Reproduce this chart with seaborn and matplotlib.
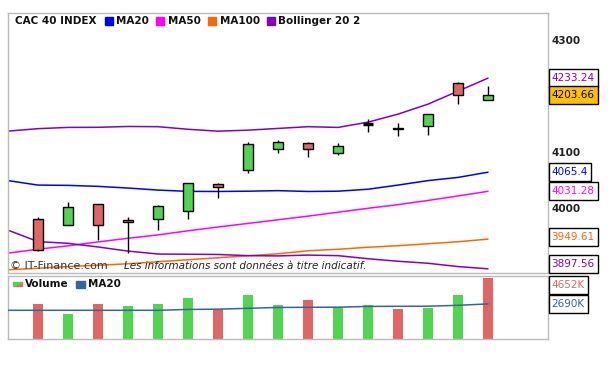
import numpy as np
import pandas as pd
import matplotlib
matplotlib.use("Agg")
import matplotlib.pyplot as plt
from matplotlib.patches import Rectangle, Polygon
import seaborn as sns

sns.set_style("white")
plt.rcParams['font.family'] = ['DejaVu Sans']

# ---- data ----
opens  = [3981, 3970.6, 4008, 3979.5, 3981, 3995.5, 4043.7, 4068.6, 4106, 4117,
          4099, 4151, 4141.7, 4147, 4223.7, 4193.4]
closes = [3927, 4002.7, 3970.6, 3976, 4004.5, 4047, 4038.3, 4115, 4118.5, 4106,
          4113, 4151, 4145, 4168.5, 4204, 4203.66]
highs  = [3985, 4012, 4008, 3985, 4007, 4047, 4046, 4119, 4122, 4120,
          4117, 4161, 4154, 4168.5, 4226, 4219]
lows   = [3925, 3970.6, 3944, 3921, 3963, 3981, 4020, 4064, 4099, 4093,
          4095.4, 4137, 4130, 4132, 4187, 4193.4]
volume_k = [2683, 1923, 2683, 2531, 2683, 3139, 2280, 3367, 2607, 2987,
            2432, 2607, 2303, 2379, 3367, 4652]

# indicator lines start one bar before the first visible candle
ma20  = [4050.4, 4042.4, 4041.9, 4040.1, 4037.1, 4033.5, 4031.2, 4031.0, 4031.5,
         4032.5, 4031.0, 4031.5, 4035.0, 4042.4, 4050.4, 4056.1, 4065.4]
ma50  = [3921, 3928, 3934, 3941, 3947.5, 3953.5, 3960.8, 3967.6, 3974, 3980.5,
         3987, 3994, 4001, 4007.5, 4015, 4023, 4031.28]
ma100 = [3891.3, 3894, 3897, 3899.4, 3902, 3905.6, 3909.2, 3912.7, 3916.3, 3919.8,
         3925.2, 3927.9, 3931.5, 3934.2, 3937.7, 3941.3, 3946]
boll_up = [4138.7, 4143.1, 4145.3, 4145.5, 4147.0, 4146.6, 4142.0, 4138.6, 4140.4,
           4143.5, 4146.6, 4145.3, 4154.7, 4169.0, 4186.8, 4210.0, 4233.24]
boll_lo = [3962, 3941.5, 3938.5, 3932, 3924.6, 3919.4, 3919, 3918.6, 3916.5,
           3916, 3917.5, 3916.5, 3911, 3906.5, 3902.9, 3897, 3893]
vol_ma20 = [2204, 2204, 2204, 2204, 2204, 2204, 2270, 2290, 2356, 2420,
            2432, 2440, 2500, 2508, 2515, 2584, 2690]

price_ticks = [4300, 4100, 4000]
last_labels = [("4233.24", 4233.24, '#8000C8', 'white'),
               ("4065.4", 4065.4, '#0000FF', 'white'),
               ("4031.28", 4031.28, '#FF00FF', 'white'),
               ("3949.61", 3949.61, '#FF6600', 'white'),
               ("3897.56", 3897.56, '#8000C8', 'white'),
               ("4203.66", 4203.66, 'black', '#FFC000')]
vol_labels = [("4652K", 4652, '#E06666', 'white'), ("2690K", 2690, '#336699', 'white')]

RED = '#E06666'
GREEN = '#52D452'
GRID = '#BBBBBB'

candle_x = np.arange(1, len(opens) + 1)
line_x = np.arange(0, len(ma20))

df = pd.DataFrame({'x': candle_x, 'open': opens, 'close': closes,
                   'high': highs, 'low': lows, 'vol': volume_k})
lines = pd.DataFrame({'x': line_x, 'ma20': ma20, 'ma50': ma50, 'ma100': ma100,
                      'up': boll_up, 'lo': boll_lo, 'vma': vol_ma20})

W, H = 614, 366
fig = plt.figure(figsize=(W / 100, H / 100), dpi=100)


def fx(x):
    return x / W


def fy(y):
    return 1 - y / H


ax = fig.add_axes([fx(8), fy(273.3), fx(540), (273.3 - 12.7) / H])
axv = fig.add_axes([fx(8), fy(339.3), fx(540), (339.3 - 275.5) / H])

for a in (ax, axv):
    a.set_xlim(0, 18)
    a.set_xticks([])
    a.set_yticks([])
    for s in a.spines.values():
        s.set_color(GRID)
        s.set_linewidth(1)
ax.set_ylim(3885, 4350)
axv.set_ylim(0, 4850)

# ---- indicator lines ----
for col, c in [('ma100', '#FF6600'), ('ma50', '#FF00FF'), ('ma20', '#0000FF'),
               ('up', '#8000C8'), ('lo', '#8000C8')]:
    sns.lineplot(data=lines, x='x', y=col, ax=ax, color=c, lw=1.1, zorder=2)

# ---- candles ----
bw = 1 / 3
for r in df.itertuples():
    ax.vlines(r.x, r.low, r.high, color='black', lw=1, zorder=3)
    if r.close == r.open:
        ax.hlines(r.close, r.x - bw / 2, r.x + bw / 2, color='black', lw=2.5, zorder=4)
        continue
    col = GREEN if r.close > r.open else RED
    ax.bar(r.x, abs(r.close - r.open), bottom=min(r.open, r.close), width=bw,
           color=col, edgecolor='black', lw=1, zorder=4)
ax.set_xlabel('')
ax.set_ylabel('')

# ---- volume ----
prev = [opens[0]] + closes[:-1]
vcols = [GREEN if c >= p else RED for c, p in zip(closes, prev)]
axv.bar(df['x'], df['vol'], width=bw, color=vcols, lw=0, zorder=2)
sns.lineplot(data=lines, x='x', y='vma', ax=axv, color='#336699', lw=1.1, zorder=3)
axv.set_xlabel('')
axv.set_ylabel('')

# ---- right side labels ----
for t in price_ticks:
    ypx = ax.transData.transform((0, t))[1]
    fig.text(fx(551), ypx / H, str(t), ha='left', va='center',
             fontsize=7.5, fontweight='bold', color='#222222')

fig.canvas.draw()
renderer = fig.canvas.get_renderer()
z = 5
for a, labels in [(ax, last_labels), (axv, vol_labels)]:
    box = a.get_window_extent(renderer)
    for txt, v, tc, bg in labels:
        ypx = a.transData.transform((0, v))[1]
        ypx = min(max(ypx, box.y0 + 9), box.y1 - 9)
        t = fig.text(fx(551.5), ypx / H, txt, ha='left', va='center',
                     fontsize=7.5, color=tc, zorder=z + 1)
        bb = t.get_window_extent(renderer)
        fig.patches.append(Rectangle((fx(548.5), (ypx - 9) / H), fx(bb.x1 + 3 - 548.5), 18 / H,
                                     fc=bg, ec='black', lw=1, transform=fig.transFigure,
                                     zorder=z))
        z += 2

# ---- legends ----
leg_y = fy(20.7)
fig.text(fx(15), leg_y, 'CAC 40 INDEX', fontsize=7.5, fontweight='bold',
         va='center', color='#111111')
for xs, xt, name, c in [(105, 116, 'MA20', '#0000FF'), (156, 168, 'MA50', '#FF00FF'),
                        (208, 220, 'MA100', '#FF6600'), (267, 278, 'Bollinger 20 2', '#8000C8')]:
    fig.patches.append(Rectangle((fx(xs), fy(24.5)), fx(8), 7 / H, color=c,
                                 transform=fig.transFigure))
    fig.text(fx(xt), leg_y, name, fontsize=7.5, fontweight='bold', va='center',
             color='#111111')

vy = fy(283.7)
fig.patches.append(Polygon([(fx(13), fy(285.5)), (fx(21.5), fy(285.5)), (fx(21.5), fy(281.5))],
                           closed=True, color=RED, transform=fig.transFigure))
fig.patches.append(Polygon([(fx(13), fy(285.5)), (fx(13), fy(281.5)), (fx(21.5), fy(281.5))],
                           closed=True, color=GREEN, transform=fig.transFigure))
fig.text(fx(25), vy, 'Volume', fontsize=7.5, fontweight='bold', va='center', color='#111111')
fig.patches.append(Rectangle((fx(76), fy(287.5)), fx(9), 7 / H, color='#336699',
                             transform=fig.transFigure))
fig.text(fx(88), vy, 'MA20', fontsize=7.5, fontweight='bold', va='center', color='#111111')

# ---- watermark ----
fig.text(fx(10), fy(266), '\u00a9 IT-Finance.com', fontsize=8, va='center', color='#333333')
fig.text(fx(124), fy(266), 'Les informations sont données à titre indicatif.',
         fontsize=7.5, style='italic', va='center', color='#222222')

fig.savefig('out.png', dpi=100)
